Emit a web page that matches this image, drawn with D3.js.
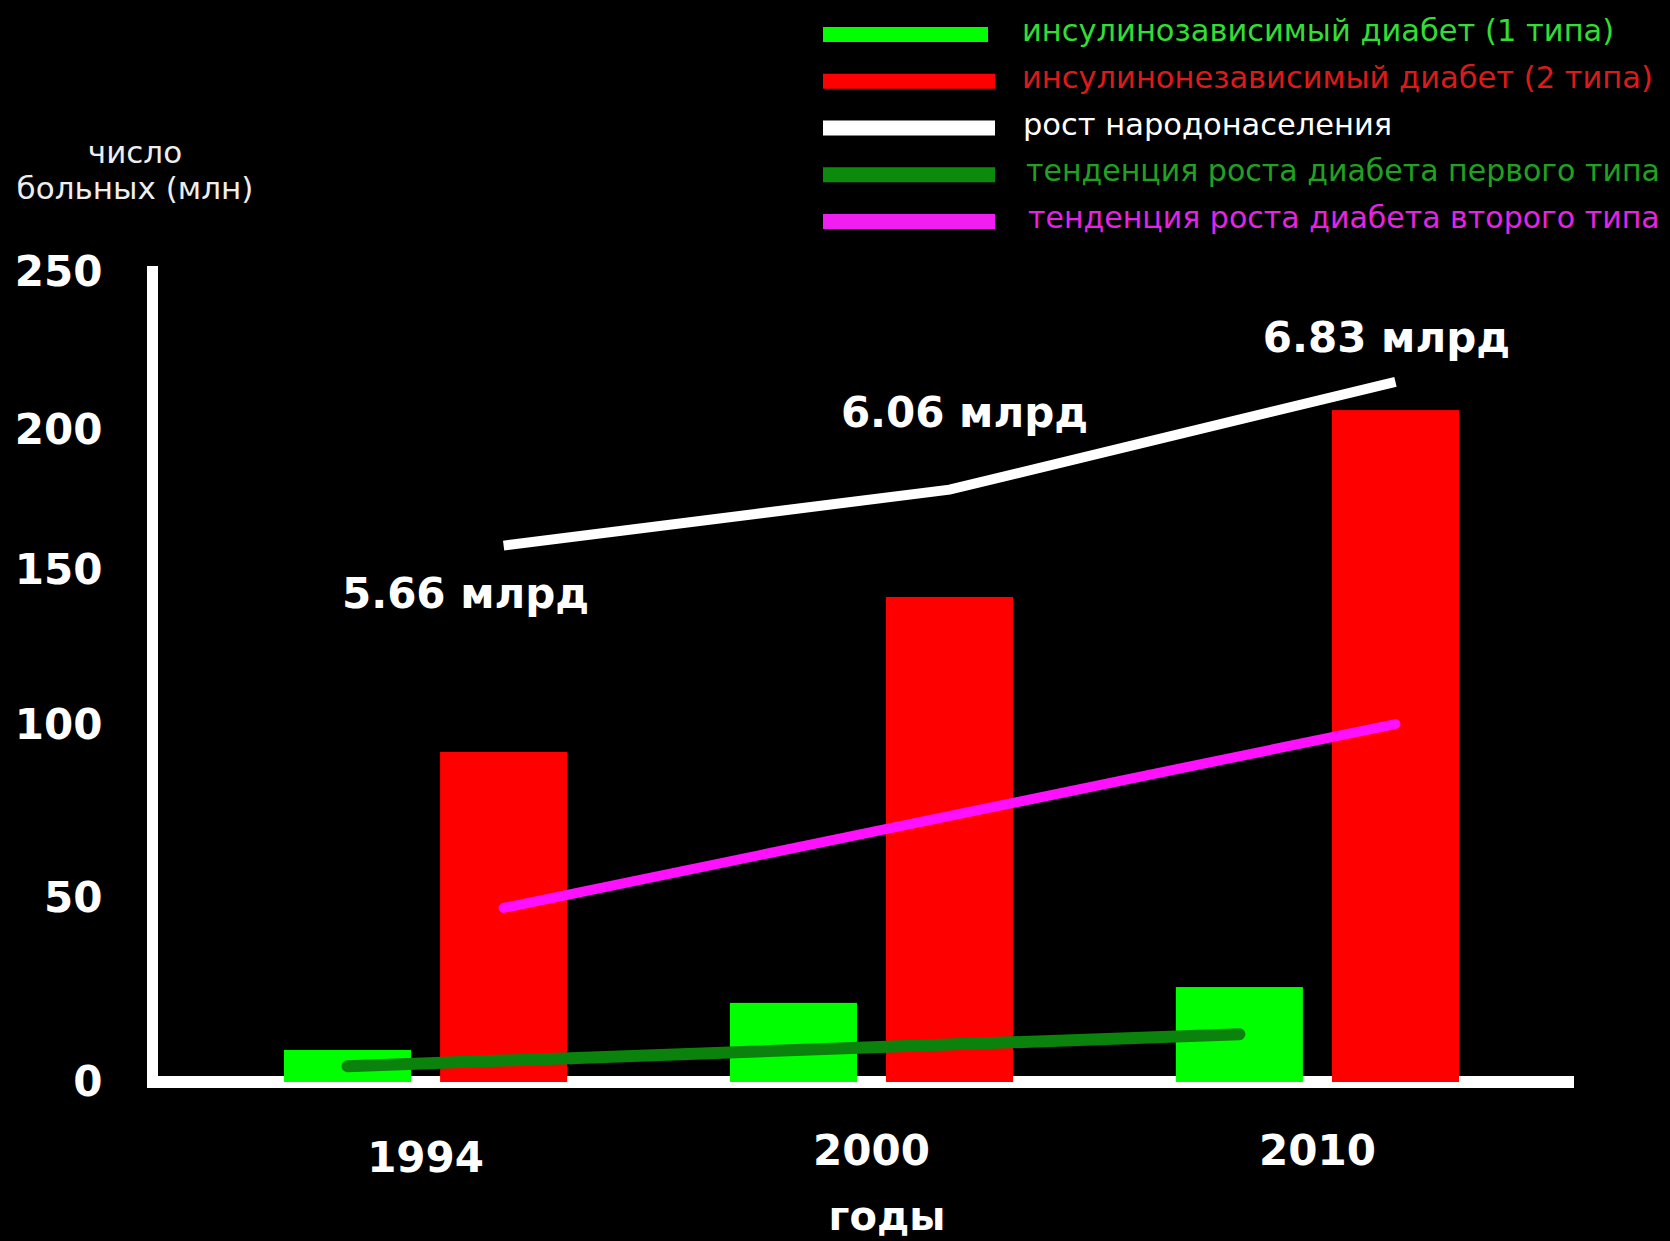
<!DOCTYPE html>
<html>
<head>
<meta charset="utf-8">
<script src="https://cdn.jsdelivr.net/npm/d3@7"></script>
<style>
  html, body { margin: 0; padding: 0; background: #000; }
  svg { display: block; }
</style>
</head>
<body>
<svg id="chart" width="1670" height="1241"></svg>
<script>
// ---- data ----
const years = ['1994', '2000', '2010'];
const type1Values = [8.7, 21.5, 25.8];      // инсулинозависимый (млн)
const type2Values = [92.2, 141.3, 206.3];   // инсулинонезависимый (млн)
const population = [5.66, 6.06, 6.83];      // млрд человек
const trendYears = ['1994', '2010'];
const trend1Values = [4.3, 13.0];
const trend2Values = [47.3, 100.3];
const yTicks = [0, 50, 100, 150, 200, 250];
const legendLabels = [
  'инсулинозависимый диабет (1 типа)',
  'инсулинонезависимый диабет (2 типа)',
  'рост народонаселения',
  'тенденция роста диабета первого типа',
  'тенденция роста диабета второго типа'
];

// ---- styling ----
const C = {
  t1: '#00ff00', t2: '#ff0000', pop: '#ffffff',
  trend1: '#0b820b', trend2: '#ff10ff'
};
const legendSwatch = [C.t1, C.t2, C.pop, '#0b8a0b', '#f01ef0'];
const legendText = ['#33dd33', '#dd1a1a', '#ffffff', '#22a022', '#e424e4'];
const BOLD = '"DejaVu Sans", Verdana, sans-serif';
const REG = '"DejaVu Sans", Tahoma, sans-serif';

const svg = d3.select('#chart');
svg.append('rect').attr('width', 1670).attr('height', 1241).attr('fill', '#000');

// ---- scales ----
// value axis: tick labels are spaced unevenly, so the scale is piecewise linear
const y = d3.scaleLinear()
  .domain(yTicks)
  .range([1082, 898, 725, 570, 430, 272]);

const x0 = d3.scaleBand().domain(years).range([284, 1459])
  .paddingInner(0.365).paddingOuter(0);
const x1 = d3.scaleBand().domain(['t1', 't2']).range([0, x0.bandwidth()])
  .paddingInner(0.186);

const popY = d3.scaleLinear().domain([5, 7]).range([638, 358]);

const cx = (yr, k) => x0(yr) + x1(k) + x1.bandwidth() / 2;

// ---- axes ----
const axisX = 152.5;
svg.append('line')
  .attr('x1', axisX).attr('x2', axisX)
  .attr('y1', y(250) - 6).attr('y2', y(0) + 6)
  .attr('stroke', '#fff').attr('stroke-width', 11);
svg.append('line')
  .attr('x1', 147).attr('x2', 1574)
  .attr('y1', y(0)).attr('y2', y(0))
  .attr('stroke', '#fff').attr('stroke-width', 12);

const gy = svg.append('g').attr('transform', `translate(${axisX},0)`)
  .call(d3.axisLeft(y).tickValues(yTicks).tickSize(0).tickPadding(50).tickFormat(d3.format('d')));
gy.select('.domain').remove();
gy.selectAll('text')
  .attr('fill', '#fff').style('font-family', BOLD).style('font-weight', 'bold')
  .style('font-size', '42px');

const gx = svg.append('g').attr('transform', `translate(0,${y(0)})`)
  .call(d3.axisBottom(x0).tickSize(0).tickPadding(53));
gx.select('.domain').remove();
gx.selectAll('text')
  .attr('fill', '#fff').style('font-family', BOLD).style('font-weight', 'bold')
  .style('font-size', '42px')
  .attr('dy', d => d === '1994' ? '0.88em' : '0.71em');

// ---- bars ----
const groups = svg.append('g').selectAll('g').data(years).join('g')
  .attr('transform', d => `translate(${x0(d)},0)`);
groups.append('rect')
  .attr('x', x1('t1')).attr('width', x1.bandwidth())
  .attr('y', (d, i) => y(type1Values[i]))
  .attr('height', (d, i) => y(0) - y(type1Values[i]))
  .attr('fill', C.t1);
groups.append('rect')
  .attr('x', x1('t2')).attr('width', x1.bandwidth())
  .attr('y', (d, i) => y(type2Values[i]))
  .attr('height', (d, i) => y(0) - y(type2Values[i]))
  .attr('fill', C.t2);

// ---- trend lines ----
const trend1Line = d3.line().x((d, i) => cx(trendYears[i], 't1')).y(d => y(d));
const trend2Line = d3.line().x((d, i) => cx(trendYears[i], 't2')).y(d => y(d));
svg.append('path').attr('d', trend1Line(trend1Values))
  .attr('fill', 'none').attr('stroke', C.trend1).attr('stroke-width', 12)
  .attr('stroke-linecap', 'round');
svg.append('path').attr('d', trend2Line(trend2Values))
  .attr('fill', 'none').attr('stroke', C.trend2).attr('stroke-width', 10)
  .attr('stroke-linecap', 'round');

// ---- population ----
const popLine = d3.line().x((d, i) => cx(years[i], 't2')).y(d => popY(d));
svg.append('path').attr('d', popLine(population))
  .attr('fill', 'none').attr('stroke', C.pop).attr('stroke-width', 10)
  .attr('stroke-linejoin', 'miter');

const popLabelShift = [[-38, 48], [15, -77], [-9, -45]];
svg.append('g').selectAll('text').data(population).join('text')
  .attr('x', (d, i) => cx(years[i], 't2') + popLabelShift[i][0])
  .attr('y', (d, i) => popY(d) + popLabelShift[i][1])
  .attr('dy', '0.35em')
  .attr('text-anchor', 'middle')
  .attr('fill', '#fff').style('font-family', BOLD).style('font-weight', 'bold')
  .style('font-size', '42px')
  .text(d => d.toFixed(2) + ' млрд');

// ---- titles ----
svg.append('text').attr('x', 135).attr('y', 155).attr('dy', '0.27em')
  .attr('text-anchor', 'middle').attr('fill', '#eee')
  .style('font-family', REG).style('font-size', '31px').text('число');
svg.append('text').attr('x', 135).attr('y', 191).attr('dy', '0.27em')
  .attr('text-anchor', 'middle').attr('fill', '#eee')
  .style('font-family', REG).style('font-size', '31px').text('больных (млн)');
svg.append('text').attr('x', 887).attr('y', 1230)
  .attr('text-anchor', 'middle').attr('fill', '#fff')
  .style('font-family', BOLD).style('font-weight', 'bold')
  .style('font-size', '40px').text('годы');

// ---- legend ----
const lg = svg.append('g').selectAll('g').data(legendLabels).join('g')
  .attr('transform', (d, i) => `translate(0,${34.5 + i * 46.75})`);
lg.append('line')
  .attr('x1', 823).attr('x2', (d, i) => i === 0 ? 988 : 995)
  .attr('stroke', (d, i) => legendSwatch[i]).attr('stroke-width', 15);
lg.append('text')
  .attr('x', (d, i) => [1022, 1022, 1023, 1026, 1028][i])
  .attr('dy', '0.22em')
  .attr('fill', (d, i) => legendText[i])
  .style('font-family', REG).style('font-size', (d, i) => i < 3 ? '30.5px' : '30px')
  .text(d => d);
</script>
</body>
</html>
